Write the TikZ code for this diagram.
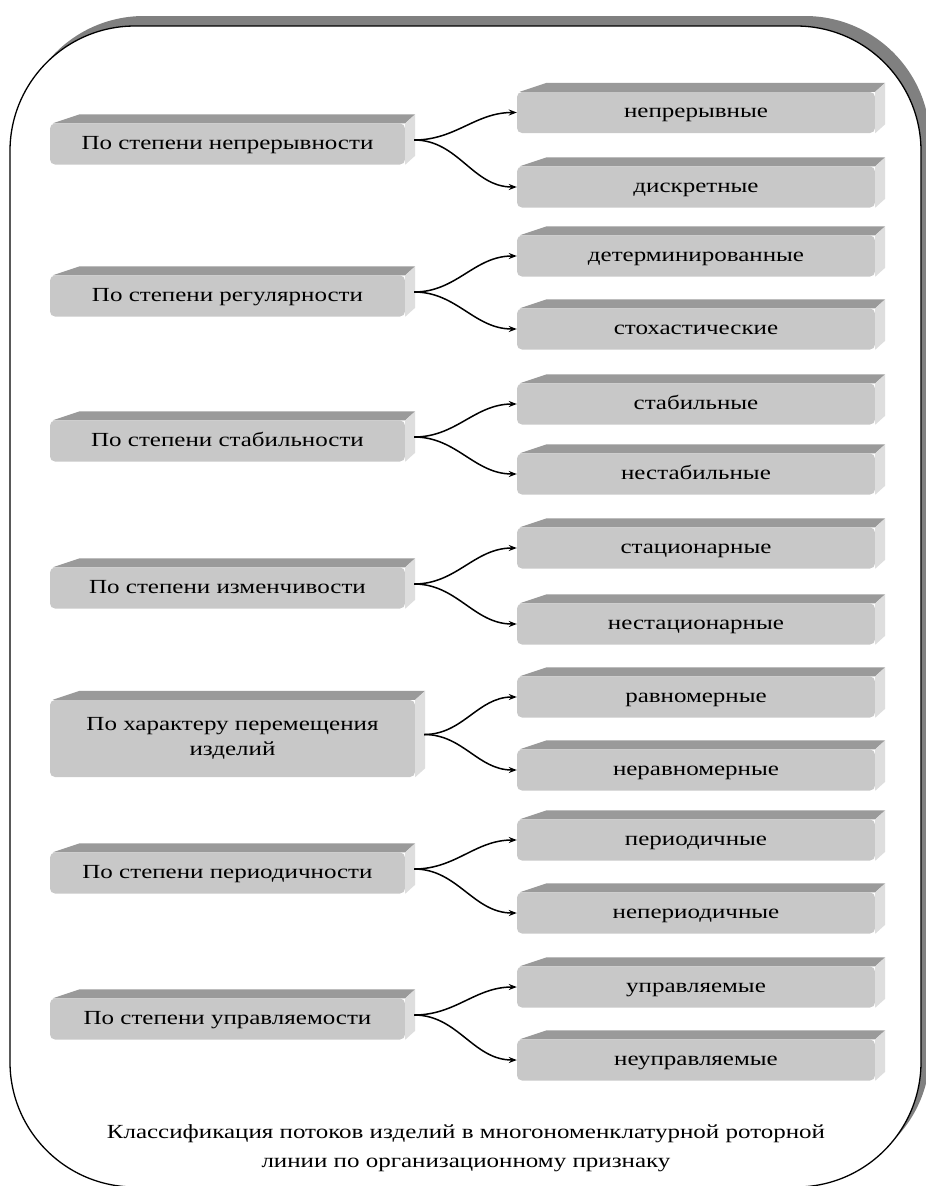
\documentclass[tikz,border=0pt]{standalone}
\usepackage{fontspec}
\setmainfont{Liberation Serif}
\newfontfamily\wide[FakeStretch=1.25]{Liberation Serif}
\usetikzlibrary{calc,arrows.meta}
\definecolor{frontc}{HTML}{C8C8C8}
\definecolor{topc}{HTML}{9A9A9A}
\definecolor{sidec}{HTML}{DEDEDE}
\definecolor{shadowc}{HTML}{808080}
\tikzset{
  front/.style={fill=frontc, rounded corners=5pt, inner sep=0pt,
    font=\wide\fontsize{20}{25}\selectfont},
  oneline/.style={text height=10pt, text depth=0pt},
  lbox/.style={front, minimum width=355pt, minimum height=41pt},
  rbox/.style={front, oneline, minimum width=358pt, minimum height=41pt},
  topface/.style={fill=topc},
  sideface/.style={fill=sidec},
  link/.style={line width=1.5pt, -{Stealth[length=8pt,width=6pt]}},
  framebox/.style={draw=black, line width=1.3pt, fill=white, rounded corners=125pt},
  frameshadow/.style={fill=shadowc, rounded corners=125pt},
}
\newcommand\faces[1]{%
  \fill[topface] ($(#1.north west)+(3,0)$) -- ($(#1.north west)+(30,-9)$)
    -- ($(#1.north east)+(10,-9)$) -- (#1.north east) -- cycle;
  \fill[sideface] (#1.north east) -- ($(#1.north east)+(10,-9)$)
    -- ($(#1.south east)+(10,-9)$) -- (#1.south east) -- cycle;
}
\newcommand\branch[3]{%
  \coordinate (#1s) at ($(#1.east)+(9,-4)$);
  \draw[link] (#1s) to[out=0,in=180] (#2.west);
  \draw[link] (#1s) to[out=0,in=180] (#3.west);
}
\begin{document}
\begin{tikzpicture}[x=1pt,y=-1pt]
\useasboundingbox (0,0) rectangle (926,1186);
\fill[frameshadow] (19,16) rectangle (930,1177);
\path[framebox] (10,26) rectangle (921,1187);

% group 1
\node[lbox, oneline] (l1) at (227.5,144) {По степени непрерывности};
\node[rbox] (r1a) at (696,112.5) {непрерывные};
\node[rbox] (r1b) at (696,187) {дискретные};
% group 2
\node[lbox, oneline] (l2) at (227.5,296) {По степени регулярности};
\node[rbox] (r2a) at (696,256) {детерминированные};
\node[rbox] (r2b) at (696,329) {стохастические};
% group 3
\node[lbox, oneline] (l3) at (227.5,441) {По степени стабильности};
\node[rbox] (r3a) at (696,404) {стабильные};
\node[rbox] (r3b) at (696,474) {нестабильные};
% group 4
\node[lbox, oneline] (l4) at (227.5,588) {По степени изменчивости};
\node[rbox] (r4a) at (696,548) {стационарные};
\node[rbox] (r4b) at (696,624) {нестационарные};
% group 5
\node[lbox, align=center, minimum width=365pt, minimum height=77pt] (l5) at (232.5,738.5) {По характеру перемещения\\изделий};
\node[rbox] (r5a) at (696,697) {равномерные};
\node[rbox] (r5b) at (696,770) {неравномерные};
% group 6
\node[lbox, oneline] (l6) at (227.5,873) {По степени периодичности};
\node[rbox] (r6a) at (696,840) {периодичные};
\node[rbox] (r6b) at (696,913) {непериодичные};
% group 7
\node[lbox, oneline] (l7) at (227.5,1019) {По степени управляемости};
\node[rbox] (r7a) at (696,987) {управляемые};
\node[rbox] (r7b) at (696,1060) {неуправляемые};

\foreach \n in {l1,r1a,r1b,l2,r2a,r2b,l3,r3a,r3b,l4,r4a,r4b,l5,r5a,r5b,l6,r6a,r6b,l7,r7a,r7b}{\faces{\n}}

\branch{l1}{r1a}{r1b}
\branch{l2}{r2a}{r2b}
\branch{l3}{r3a}{r3b}
\branch{l4}{r4a}{r4b}
\branch{l5}{r5a}{r5b}
\branch{l6}{r6a}{r6b}
\branch{l7}{r7a}{r7b}

\node[align=center, font=\wide\fontsize{20}{29}\selectfont] (cap) at (466,1148)
  {Классификация потоков изделий в многономенклатурной роторной\\линии по организационному признаку};
\end{tikzpicture}
\end{document}
